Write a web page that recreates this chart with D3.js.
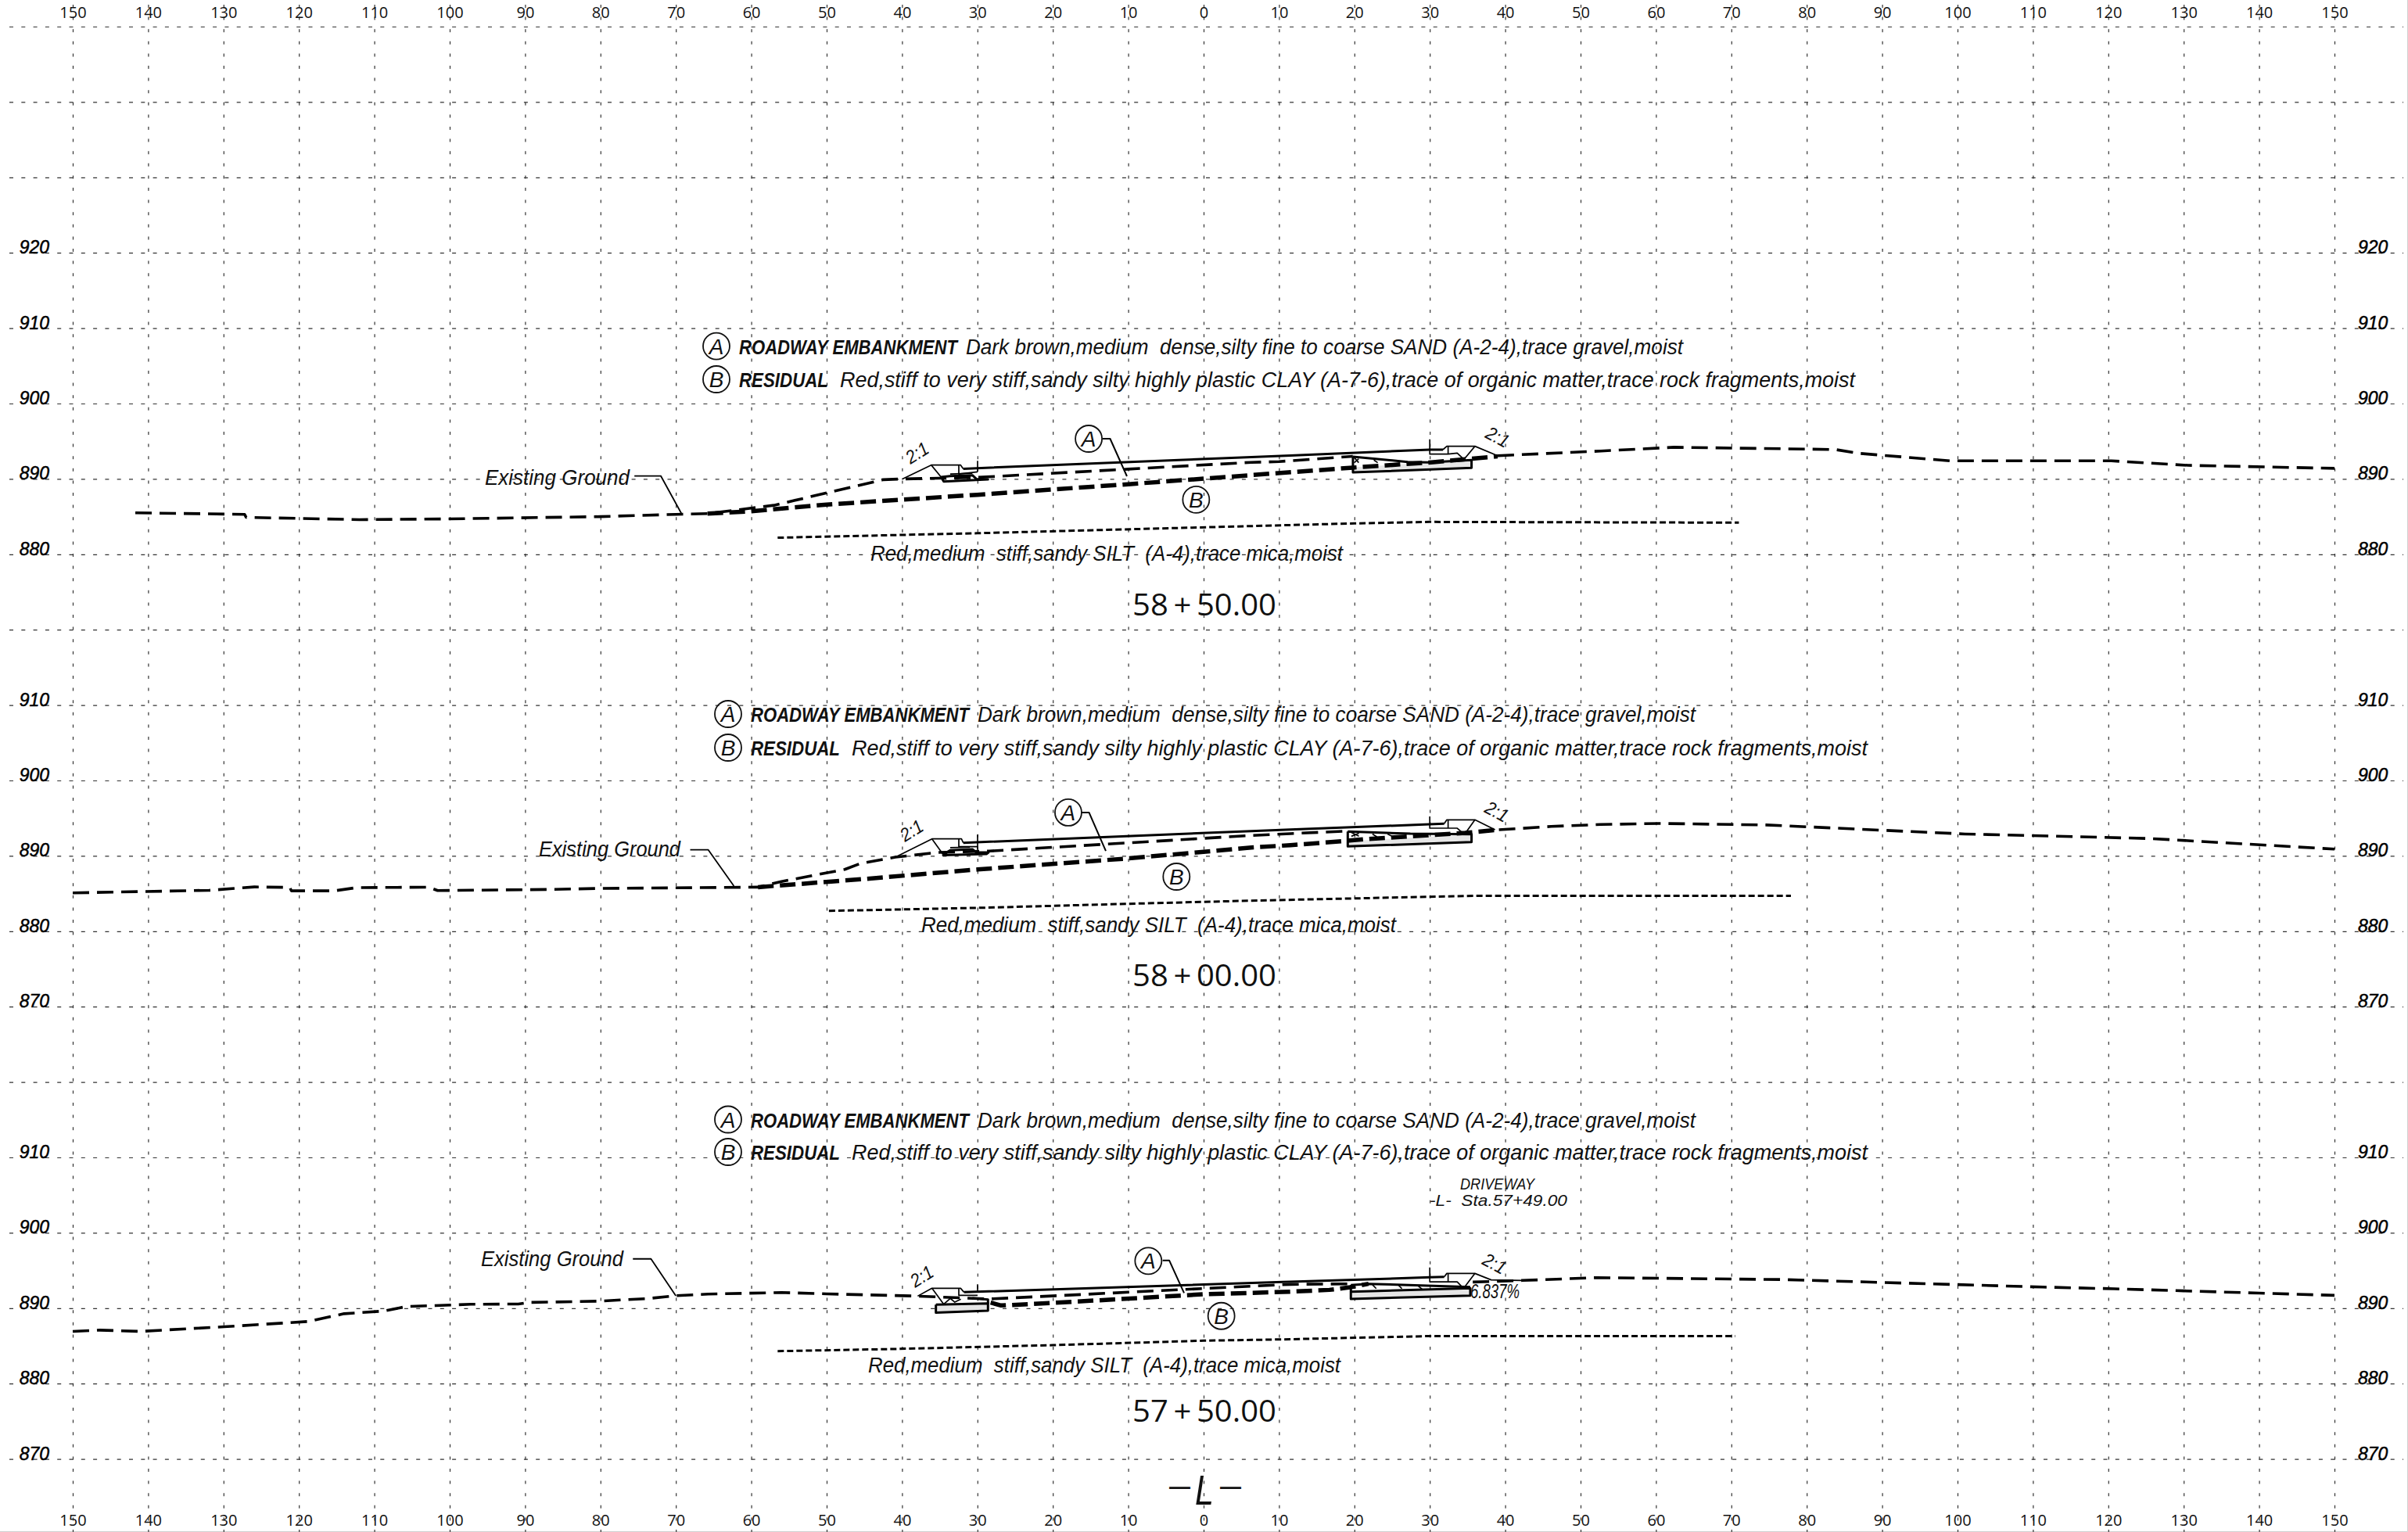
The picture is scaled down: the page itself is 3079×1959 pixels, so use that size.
<!DOCTYPE html>
<html>
<head>
<meta charset="utf-8">
<style>
  html, body { margin: 0; padding: 0; background: #fff; }
  svg { display: block; }
</style>
<script src="https://d3js.org/d3.v7.min.js"></script>
</head>
<body>
<div class="container"></div>
<script>
const w = 3079;
const h = 1959;

// offsets from centerline, in feet
const xTicks = d3.range(-150, 151, 10);
const gridRows = d3.range(0, 20);

// elevation labels for each section
const elevTop = [920, 910, 900, 890, 880];
const elevMid = [910, 900, 890, 880, 870];
const elevLow = [910, 900, 890, 880, 870];

// text
const legendA = 'ROADWAY EMBANKMENT';
const legendADesc = 'Dark brown,medium  dense,silty fine to coarse SAND (A-2-4),trace gravel,moist';
const legendB = 'RESIDUAL';
const legendBDesc = 'Red,stiff to very stiff,sandy silty highly plastic CLAY (A-7-6),trace of organic matter,trace rock fragments,moist';
const siltText = 'Red,medium  stiff,sandy SILT  (A-4),trace mica,moist';

// station 58+50 [offset, elevation]
const groundLeft5850 = [[-141.7,885.5],[-127.2,885.3],[-127,884.9],[-112,884.6],[-100,884.7],[-80,885],[-70,885.3],[-65.8,885.4],[-57,886.5],[-42.5,889.9],[-39.8,890],[-30,890.2],[-10,891.3],[6.3,892.2],[10,892.3],[19.8,893]];
const groundRight5850 = [[39,893.08],[52.7,893.7],[62.4,894.2],[83.8,893.9],[86.8,893.4],[99,892.4],[120.4,892.4],[130.6,891.8],[150,891.4]];
const residual5850 = [[-65.8,885.4],[-60,885.7],[-50,886.6],[-30,887.9],[-10,889.3],[6.3,890.5],[19.8,891.5],[30.2,892.2],[34.7,892.6],[39,893]];
const silt5850 = [[-56.5,882.2],[-30,882.8],[20,884.1],[30,884.3],[71,884.2]];
const finish5850 = [[-31.88,891.35],[6.33,892.9],[11.5,893.1],[30,893.88],[31.74,893.88]];
const shoulders5850 = [
  [[-40,889.97],[-36.13,891.84],[-32.23,891.84],[-31.88,891.35]],
  [[-36.13,891.84],[-34.82,890.25],[-34.47,889.66]],
  [[-32.47,891.84],[-32.47,890.66],[-29.98,890.94]],
  [[-29.98,892.39],[-29.98,890.94]],
  [[-33.61,890.66],[-30.67,890.75]],
  [[31.74,893.88],[32.26,894.33],[35.99,894.33],[39,893.08]],
  [[35.99,894.33],[34.68,892.77]],
  [[30,895.26],[30,893.29],[32.43,893.29],[33.64,893.43],[34.33,892.77]],
  [[32.43,894.33],[32.43,893.29]],
  [[19.98,892.84],[20.57,892.15]],
  [[19.98,892.15],[20.57,892.67]],
  [[22.58,892.5],[23.09,892.15]]
];
const pads5850 = [
  [[19.81,892.95],[19.81,890.87],[35.54,891.46],[35.54,892.5],[29.8,892.2],[27.07,892.25],[19.81,892.95]],
  [[-34.82,890.25],[-33.61,890.39],[-30.67,890.49],[-30.15,890],[-28.6,889.93],[-34.47,889.66],[-34.82,890.25]]
];
const slabs5850 = [[[19.81,891.55],[35.54,892.5],[35.54,891.46],[19.81,890.87]]];
const leader5850 = [[-13.4,895.33],[-12.4,895.33],[-10.17,890.35]];
const groundLeader5850 = [[-75.5,890.4],[-72,890.4],[-69.2,885.3]];

// station 58+00
const groundLeft5800 = [[-150,885.09],[-131.9,885.43],[-125.9,885.88],[-121.2,885.81],[-121,885.36],[-115.3,885.36],[-112.4,885.78],[-102.8,885.85],[-101.6,885.4],[-86.9,885.54],[-80.3,885.68],[-59.1,885.85],[-56,886.6],[-47.6,888.2],[-45.5,889],[-40.87,889.83],[-35.17,890.46],[-28.42,890.63],[6.33,892.7],[11.51,892.95],[19.12,893.29]];
const groundRight5800 = [[39.17,893.46],[46.1,893.9],[52.66,894.16],[60.4,894.3],[74.6,894.1],[101,892.9],[125.5,892.3],[150,890.9]];
const residual5800 = [[-59.1,885.85],[-45.37,886.9],[-29.98,888.2],[-10,889.66],[6.33,891.1],[11.51,891.42],[18.43,891.94],[21.19,892.2],[34.68,893.05],[39.17,893.46]];
const silt5800 = [[-49.7,882.7],[-29.98,883.1],[-10,883.64],[6.33,884.06],[35.9,884.7],[77.9,884.7]];
const finish5800 = [[-31.88,891.73],[6.33,893.29],[11.51,893.5],[31.91,894.26]];
const shoulders5800 = [
  [[-40.87,889.83],[-36.03,892.25],[-32.12,892.25],[-31.88,891.73]],
  [[-36.03,892.25],[-34.54,890.18]],
  [[-32.47,892.25],[-32.47,891.22],[-29.98,891.22]],
  [[-29.98,892.81],[-29.98,890.8]],
  [[-33.61,891.1],[-31,891.15]],
  [[31.91,894.26],[32.26,894.78],[35.99,894.78],[38.65,893.46]],
  [[35.99,894.78],[34.75,893.05]],
  [[30,895.23],[30,893.67],[33.64,893.67],[34.16,893.22]],
  [[32.43,894.78],[32.43,893.67]],
  [[19.6,893.1],[20.6,892.6]],
  [[19.6,892.6],[20.6,893]],
  [[22.4,892.9],[23,892.5]],
  [[24.4,892.9],[25,892.6]]
];
const pads5800 = [
  [[19.12,893.22],[19.12,891.25],[35.54,891.84],[35.54,892.88],[27.42,892.95],[19.12,893.22]],
  [[-34.54,890.18],[-33.61,890.73],[-30.67,890.87],[-30.15,890.46],[-28.53,890.46],[-28.8,890.25],[-34.54,890.1],[-34.54,890.18]]
];
const slabs5800 = [[[19.12,891.95],[35.54,892.88],[35.54,891.84],[19.12,891.25]]];
const leader5800 = [[-16.2,895.75],[-15.2,895.75],[-12.97,890.66]];
const groundLeader5800 = [[-68.1,890.8],[-65.7,890.8],[-62.3,886]];

// station 57+50
const groundLeft5750 = [[-150,886.92],[-146.4,887.09],[-141.1,886.92],[-129.9,887.54],[-118.7,888.24],[-114,889.27],[-108.7,889.62],[-105.8,890.21],[-97.2,890.52],[-90.9,890.55],[-89.5,890.76],[-80.3,890.93],[-73.7,891.28],[-70,891.66],[-65.7,891.87],[-56,892.08],[-50,891.9],[-37.93,891.6],[-35.51,891.5],[-28.42,891.22],[10.48,893.12],[11.51,893.16],[19.81,893.23]];
const groundRight5750 = [[35.7,893.47],[42.29,893.68],[52.2,894.05],[76.7,893.8],[111.3,892.8],[120.8,892.57],[130,892.3],[140,892],[150,891.7]];
const residual5750 = [[-28.25,890.74],[-26.87,890.36],[-19.95,890.7],[0.04,891.85],[10.48,892.15],[16.7,892.43],[19.46,892.78],[21.88,893.23]];
const silt5750 = [[-56.5,884.3],[-41.39,884.58],[-19.95,885.1],[0.04,885.69],[10.48,885.86],[30,886.3],[70.5,886.3]];
const finish5750 = [[-31.78,892.12],[10.48,893.47],[11.51,893.5],[30,894.09],[31.91,894.16]];
const shoulders5750 = [
  [[-37.93,891.6],[-36.03,892.64],[-32.23,892.64],[-31.78,892.12]],
  [[-36.03,892.64],[-34.47,890.53]],
  [[-32.47,892.64],[-32.47,891.7],[-29.98,891.7]],
  [[-29.98,893.16],[-29.98,892.12]],
  [[-34.47,890.53],[-33.6,891.3],[-33,890.8],[-32.2,891.2]],
  [[31.91,894.16],[32.26,894.61],[35.99,894.61],[38.14,893.75],[42.29,893.68]],
  [[35.99,894.61],[34.5,892.64]],
  [[30,895.41],[30,893.5],[33.64,893.5],[34.33,892.78]],
  [[32.43,894.61],[32.43,893.5]],
  [[22.4,893.1],[22.9,892.6]],
  [[25.8,893.1],[26.3,892.6]],
  [[28.4,893],[29,892.5]]
];
const pads5750 = [
  [[-35.51,890.46],[-35.51,889.42],[-28.6,889.67],[-28.6,890.63],[-35.51,890.46]],
  [[-30.67,891.33],[-28.6,891.15],[-28.6,890.63]],
  [[19.53,893.06],[19.53,891.22],[35.37,891.67],[35.37,892.64],[19.53,892.19]],
  [[19.53,893.06],[21.88,893.23],[35.37,892.8]]
];
const slabs5750 = [
  [[-35.51,890.46],[-35.51,889.42],[-28.6,889.67],[-28.6,890.63]],
  [[19.53,892.19],[19.53,891.22],[35.37,891.67],[35.37,892.64]]
];
const leader5750 = [[-5.43,896.34],[-4.56,896.34],[-2.59,892.02]];
const groundLeader5750 = [[-75.7,896.54],[-73.3,896.54],[-70,891.63]];

const narrow = '"Liberation Sans Narrow", "Liberation Sans", sans-serif';
const round = '"Open Sans", "Noto Sans", sans-serif';

const svg = d3.select('.container')
              .append('svg')
              .attr('width', w)
              .attr('height', h)
              .attr('viewBox', `0 0 ${w} ${h}`);

svg.append('rect').attr('width', w).attr('height', h).attr('fill', '#fff');
// thin edge of the sheet
svg.append('path')
   .attr('d', `M${w - 0.5},0V${h - 0.5}H0`)
   .attr('fill', 'none')
   .attr('stroke', '#d0d0d0');

const xScale = d3.scaleLinear().domain([-150, 150]).range([93, 2985]);
const rowScale = d3.scaleLinear().domain([0, 19]).range([34, 1865.6]);

// vertical grid
const xGrid = svg.append('g')
   .attr('transform', 'translate(0,6)')
   .call(d3.axisBottom(xScale).tickValues(xTicks).tickSize(h - 6).tickFormat(''));
xGrid.select('.domain').remove();
xGrid.selectAll('line').attr('stroke', '#333').attr('stroke-width', 1.2).attr('stroke-dasharray', '4 11.6');

// horizontal grid
const yGrid = svg.append('g')
   .attr('transform', 'translate(12,0)')
   .call(d3.axisRight(rowScale).tickValues(gridRows).tickSize(w - 18).tickFormat(''));
yGrid.select('.domain').remove();
yGrid.selectAll('line').attr('stroke', '#333').attr('stroke-width', 1.2).attr('stroke-dasharray', '5 10.3');

// offset labels top and bottom
const xTop = svg.append('g')
   .attr('transform', 'translate(0,23)')
   .call(d3.axisTop(xScale).tickValues(xTicks).tickSize(0).tickPadding(0).tickFormat(d => Math.abs(d)));
const xBottom = svg.append('g')
   .attr('transform', 'translate(0,1951)')
   .call(d3.axisBottom(xScale).tickValues(xTicks).tickSize(0).tickPadding(0).tickFormat(d => Math.abs(d)));
[xTop, xBottom].forEach(a => {
  a.select('.domain').remove();
  a.selectAll('text')
   .attr('y', 0).attr('dy', 0)
   .style('font-family', round).style('font-size', '20px').attr('fill', '#111');
});

const label = (x, y, str, len, size, extra = {}) => {
  const t = svg.append('text')
     .attr('x', x)
     .attr('y', y)
     .text(str)
     .attr('fill', '#111')
     .style('white-space', 'pre')
     .style('font-family', extra.family || narrow)
     .style('font-size', size + 'px')
     .style('font-style', extra.style || 'italic')
     .style('font-weight', extra.weight || 'normal');
  if (len) t.attr('textLength', len).attr('lengthAdjust', 'spacingAndGlyphs');
  if (extra.rotate) t.attr('transform', `rotate(${extra.rotate} ${x} ${y})`).attr('text-anchor', 'middle');
  return t;
};

const bubble = (x, y, str) => {
  svg.append('circle').attr('cx', x).attr('cy', y).attr('r', 17)
     .attr('fill', 'none').attr('stroke', '#111').attr('stroke-width', 1.8);
  label(x, y + 10, str, null, 28).attr('text-anchor', 'middle');
};

const sections = [
  {
    row: 6, elevs: elevTop, station: '58\u2009+\u200950.00', stationY: 787,
    groundLeft: groundLeft5850, groundRight: groundRight5850, residual: residual5850, silt: silt5850,
    finish: finish5850, shoulders: shoulders5850, pads: pads5850, slabs: slabs5850,
    leader: leader5850, groundLeader: groundLeader5850,
    bubbleA: [-15.24, 895.33], bubbleB: [-1, 887.25],
    legendX: 916, legendAY: 442.6, legendBY: 485, descAX: 1235, descAW: 917, descBX: 1074, descBW: 1298,
    siltX: 1113, siltY: 717, siltW: 604,
    groundText: [620, 620, 185],
    slopes: [[1177, 578, -32], [1911, 558, 28]]
  },
  {
    row: 11, elevs: elevMid, station: '58\u2009+\u200900.00', stationY: 1261,
    groundLeft: groundLeft5800, groundRight: groundRight5800, residual: residual5800, silt: silt5800,
    finish: finish5800, shoulders: shoulders5800, pads: pads5800, slabs: slabs5800,
    leader: leader5800, groundLeader: groundLeader5800,
    bubbleA: [-17.95, 895.75], bubbleB: [-3.6, 887.24],
    legendX: 931, legendAY: 913, legendBY: 956, descAX: 1250, descAW: 918, descBX: 1089, descBW: 1299,
    siltX: 1178, siltY: 1192, siltW: 607,
    groundText: [689, 1095, 181],
    slopes: [[1170, 1061, -32], [1910, 1037, 28]]
  },
  {
    row: 17, elevs: elevLow, station: '57\u2009+\u200950.00', stationY: 1818,
    groundLeft: groundLeft5750, groundRight: groundRight5750, residual: residual5750, silt: silt5750,
    finish: finish5750, shoulders: shoulders5750, pads: pads5750, slabs: slabs5750,
    leader: leader5750, groundLeader: groundLeader5750,
    bubbleA: [-7.33, 896.27], bubbleB: [2.35, 888.97],
    legendX: 931, legendAY: 1431.5, legendBY: 1473, descAX: 1250, descAW: 918, descBX: 1089, descBW: 1299,
    siltX: 1110, siltY: 1755, siltW: 604,
    groundText: [615, 1619, 182],
    slopes: [[1183, 1631, -32], [1907, 1615, 28]]
  }
];

sections.forEach((s) => {
  const yScale = d3.scaleLinear()
                   .domain([890, 880])
                   .range([rowScale(s.row), rowScale(s.row + 1)]);
  const line = d3.line().x(d => xScale(d[0])).y(d => yScale(d[1]));

  // elevation labels both sides
  const yLeft = svg.append('g').attr('transform', 'translate(63,0)')
     .call(d3.axisLeft(yScale).tickValues(s.elevs).tickSize(0).tickPadding(0));
  const yRight = svg.append('g').attr('transform', 'translate(3015,0)')
     .call(d3.axisRight(yScale).tickValues(s.elevs).tickSize(0).tickPadding(0));
  [yLeft, yRight].forEach(a => {
    a.select('.domain').remove();
    a.selectAll('text')
     .attr('dy', '0.02em')
     .attr('fill', '#000')
     .attr('stroke', '#000')
     .attr('stroke-width', 0.5)
     .style('font-family', '"Liberation Sans", sans-serif')
     .style('font-style', 'italic')
     .style('font-size', '23px');
  });

  const draw = (pts, width, dash) => {
    svg.append('path')
       .attr('d', line(pts))
       .attr('fill', 'none')
       .attr('stroke', '#000')
       .attr('stroke-width', width)
       .attr('stroke-linejoin', 'round')
       .attr('stroke-dasharray', dash);
  };

  s.slabs.forEach(p => {
    svg.append('path').attr('d', line(p) + 'Z').attr('fill', '#e6e6e6');
  });
  draw(s.silt, 3, '8 4');
  draw(s.groundLeft, 3.6, '21 10');
  draw(s.groundRight, 3.6, '21 10');
  draw(s.residual, 5.5, '20 8');
  s.shoulders.forEach(p => draw(p, 1.7));
  draw(s.finish, 3);
  s.pads.forEach(p => draw(p, 3));
  draw(s.leader, 2);
  draw(s.groundLeader, 1.8);

  bubble(xScale(s.bubbleA[0]), yScale(s.bubbleA[1]), 'A');
  bubble(xScale(s.bubbleB[0]), yScale(s.bubbleB[1]), 'B');

  // soil legend
  bubble(s.legendX, s.legendAY, 'A');
  bubble(s.legendX, s.legendBY, 'B');
  label(s.legendX + 29, s.legendAY + 10, legendA, 279, 25, {weight: 'bold'});
  label(s.descAX, s.legendAY + 10, legendADesc, s.descAW, 27);
  label(s.legendX + 29, s.legendBY + 10, legendB, 114, 25, {weight: 'bold'});
  label(s.descBX, s.legendBY + 10, legendBDesc, s.descBW, 27);
  label(s.siltX, s.siltY, siltText, s.siltW, 27);
  label(s.groundText[0], s.groundText[1], 'Existing Ground', s.groundText[2], 28);

  s.slopes.forEach(d => label(d[0], d[1] + 8, '2:1', 30, 24, {rotate: d[2]}));

  label(1448, s.stationY, s.station, 184, 39, {family: round, style: 'normal'});
});

// one-off notes on the lower section
label(1867, 1521, 'DRIVEWAY', 95, 21);
label(1828, 1542, '-L-  Sta.57+49.00', 176, 21);
label(1880, 1660, '6.837%', 63, 25);
label(1495, 1913, '\u2013', 27, 40, {style: 'normal'});
label(1528, 1924, 'L', 24, 54);
label(1560, 1913, '\u2013', 27, 40, {style: 'normal'});
</script>
</body>
</html>
